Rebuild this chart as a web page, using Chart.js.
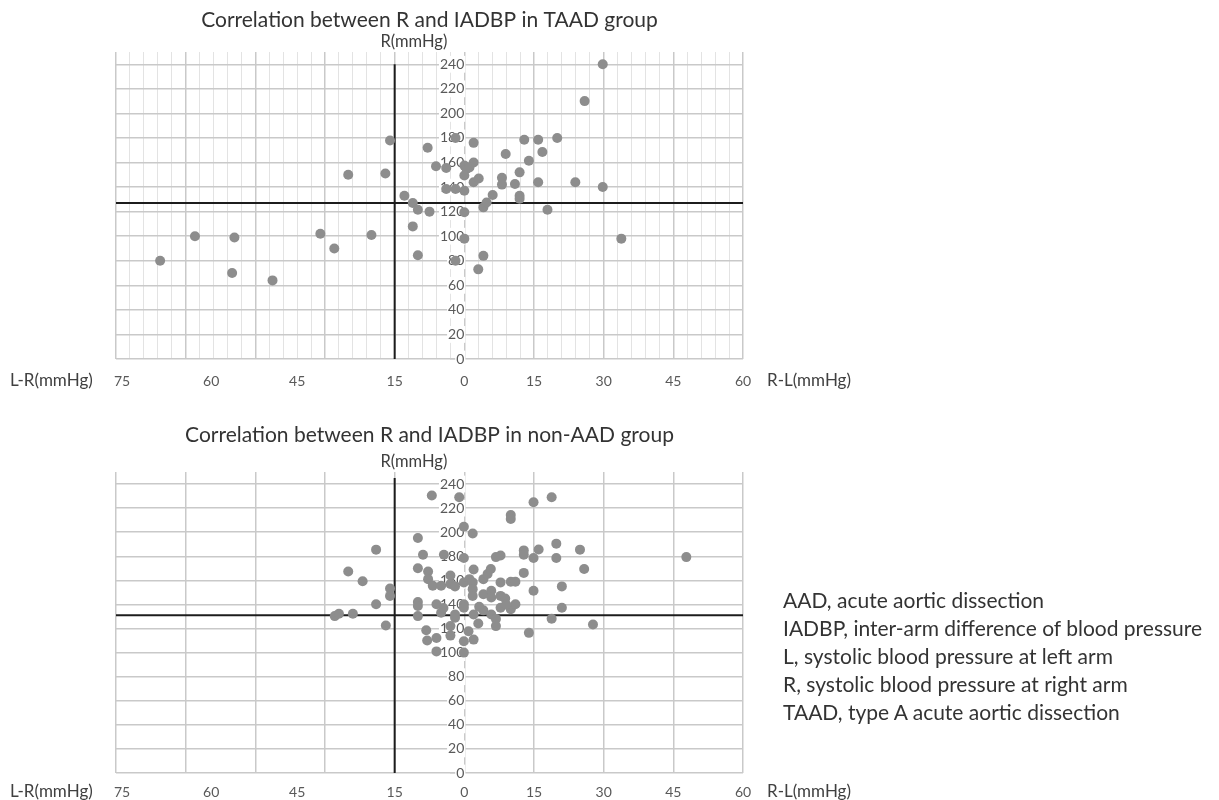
<!DOCTYPE html>
<html>
<head>
<meta charset="utf-8">
<script src="https://cdn.jsdelivr.net/npm/chart.js@4.4.1/dist/chart.umd.min.js"></script>
<style>
  body { margin: 0; background: #fff; width: 1219px; height: 800px; overflow: hidden; position: relative; font-family: Lato, sans-serif; }
  #top { position: absolute; left: 0; top: 0; }
  #bottom { position: absolute; left: 0; top: 400px; }
  #notes { position: absolute; left: 783px; top: 586px; font-size: 21px; line-height: 28px; color: #333; white-space: nowrap; }
</style>
</head>
<body>
<canvas id="top" width="880" height="422"></canvas>
<canvas id="bottom" width="880" height="422"></canvas>
<div id="notes">
  AAD, acute aortic dissection<br>
  IADBP, inter-arm difference of blood pressure<br>
  L, systolic blood pressure at left arm<br>
  R, systolic blood pressure at right arm<br>
  TAAD, type A acute aortic dissection
</div>
<script>
// x: R-L difference (negative = L-R side), y: R in mmHg
var xTickPos  = [-73.7, -54.5, -36, -15, 0, 15, 30, 45, 60];
var xTickText = ['75', '60', '45', '15', '0', '15', '30', '45', '60'];
var yTicks = [0, 20, 40, 60, 80, 100, 120, 140, 160, 180, 200, 220, 240];

var taadX = [-65.5, -58, -49.5, -50, -41.3, -31, -28, -25, -20,
  -17, -16, -7.9, -1.9, -6.1, -3.9, -3.9, -1.9, 0, 0, 0.5, 0, 2, 2, 1.1, 2, 3.1,
  0, 0, -1.9, 3, 4.1, 4.1, 4.8, 6.1, 8.1, 8.1, 8.9, 10.9, 11.9, 11.9, 11.9,
  12.9, 13.9, 15.9, 16.8, 15.9, 17.9, 20, 23.9, 25.9, 29.8, 29.8, 33.8,
  -12.9, -11.1, -10, -7.5, -11.1, -10];
var taadY = [80, 100, 99, 70, 64, 102, 90, 150, 101,
  151, 178, 172, 180, 157, 155.5, 138.5, 138.5, 137, 157.5, 155, 149.5, 176, 160, 156, 144, 147,
  119.5, 98, 80, 73, 84, 123.5, 127.5, 133.5, 147.5, 142, 167, 142.5, 152, 133, 130.5,
  178.5, 161.5, 178.5, 168.5, 144, 121.5, 180, 144, 210, 240, 140, 98,
  133, 127, 121.5, 120, 108, 84.5];

var nonX = [-27.9, -27, -24, -25, -21.9, -19, -19, -16.9, -16, -16,
  -10, -10, -10, -10, -10, -8.9, -7.8, -7.8, -7, -6.8, -6, -5, -8.2, -8, -6, -6,
  -4.4, -5, -3, -3, -2, -3, -3, -2, -2, -1.1, -0.1, -0.1, -0.1, -0.1, -0.1, -0.1, -0.1,
  1.1, 0.9, 1.8, 2, 1.8, 1.8, 1.8, 2, 2, 3, 4.1, 4.1, 4.1, 5, 5.7, 5.8, 5.8, 5.8,
  6.8, 6.8, 7.8, 7.8, 7.8, 7.8, 10, 10, 10, 10, 11, 11, 12.8, 12.8, 12.8, 13.9,
  14.9, 14.9, 14.9, 16, 18.8, 18.8, 19.8, 19.8, 21, 21, 24.9, 25.8, 27.7, 47.8,
  -4.5, 3.2, 8.8, 6.8, 9];
var nonY = [130.3, 132.3, 132.3, 167.3, 159.2, 185.5, 140.1, 122.5, 153.3, 147.1,
  195.2, 170, 142, 138.7, 130.3, 181.3, 167.3, 161, 230.5, 155.5, 140.1, 133.1, 118.6, 110, 112.2, 101,
  181.3, 155.5, 164, 157, 155, 122, 114.1, 131.7, 129, 229, 204.5, 178.5, 158.3, 140.1, 137.3, 109.4, 100,
  161, 117.8, 198.9, 169, 158.3, 152.7, 147.1, 131.7, 110.8, 124.2, 161, 148.5, 135.1, 165.3, 169.5, 151.3, 145.7, 131.7,
  122, 179.3, 180.7, 158.3, 147.1, 137.3, 214.3, 211, 136, 158.9, 158.9, 140.1, 184.9, 181.3, 166.2, 116.4,
  224.9, 178.5, 151.3, 185.7, 229.1, 128.1, 190.5, 178.5, 155, 137.3, 185.5, 169.5, 123.4, 179.3,
  137, 138, 145, 128, 140];

// black cross lines: [x of vertical line, y of horizontal line, top of vertical line]
var taadCross = [-15, 127, 240];
var nonCross = [-15, 131, 245];

var X_MIN = -75, X_MAX = 60;

var axisText = {
  id: 'axisText',
  afterDraw: function(chart, args, opts) {
    var ctx = chart.ctx, area = chart.chartArea, s = chart.scales;
    ctx.save();
    ctx.fillStyle = '#404040';
    ctx.textBaseline = 'middle';
    ctx.textAlign = 'right';
    ctx.font = '16.5px Lato';
    ctx.fillText('R(mmHg)', s.x.getPixelForValue(0) - 17, area.top - 10);
    var ly = area.bottom + opts.gap;
    ctx.font = '17px Lato';
    ctx.textAlign = 'left';
    ctx.fillText('L-R(mmHg)', 10, ly);
    ctx.fillText('R-L(mmHg)', area.right + 24, ly);
    ctx.restore();
  }
};

function makeChart(id, xs, ys, cross, gridStep, title, titlePad, lblPad, botPad) {
  var pts = xs.map(function(v, i) { return { x: v, y: ys[i] }; });
  return new Chart(document.getElementById(id), {
    type: 'scatter',
    data: {
      datasets: [
        { data: pts, backgroundColor: '#8d8d8d', borderWidth: 0, pointRadius: 5, pointHoverRadius: 5 },
        { data: [{ x: cross[0], y: 0 }, { x: cross[0], y: cross[2] }], showLine: true,
          borderColor: '#1c1c1c', borderWidth: 2, pointRadius: 0, clip: false },
        { data: [{ x: X_MIN, y: cross[1] }, { x: X_MAX, y: cross[1] }], showLine: true,
          borderColor: '#1c1c1c', borderWidth: 2, pointRadius: 0 }
      ]
    },
    options: {
      responsive: false,
      animation: false,
      events: [],
      layout: { padding: { left: 116, right: 137, top: 0, bottom: botPad } },
      scales: {
        x: {
          type: 'linear', min: X_MIN, max: X_MAX,
          ticks: { display: false, stepSize: gridStep },
          grid: {
            z: -1,
            drawTicks: false,
            color: function(c) { return c.tick && c.tick.value % 15 === 0 ? '#c9c9c9' : '#e3e3e3'; },
            lineWidth: function(c) { return c.tick && c.tick.value % 15 === 0 ? 1.5 : 1; }
          },
          border: { display: false }
        },
        xl: {
          type: 'linear', axis: 'x', position: 'bottom', min: X_MIN, max: X_MAX,
          afterBuildTicks: function(s) { s.ticks = xTickPos.map(function(v) { return { value: v }; }); },
          ticks: {
            autoSkip: false, maxRotation: 0, padding: lblPad,
            color: '#595959', font: { family: 'Lato', size: 14, lineHeight: 1 },
            callback: function(v, i) { return xTickText[i]; }
          },
          grid: { display: false, drawTicks: false },
          border: { display: false }
        },
        y: {
          type: 'linear', min: 0, max: 250, position: { x: 0 },
          afterBuildTicks: function(s) { s.ticks = yTicks.map(function(v) { return { value: v }; }); },
          ticks: {
            padding: 3, color: '#595959', font: { family: 'Lato', size: 14 },
            showLabelBackdrop: true, backdropColor: '#ffffff', backdropPadding: { x: 1, y: 0 }
          },
          grid: { color: '#c9c9c9', lineWidth: 1.5, tickLength: 14 },
          border: { display: false }
        }
      },
      plugins: {
        legend: { display: false },
        tooltip: { enabled: false },
        title: {
          display: true, text: title, fullSize: false,
          color: '#333', font: { family: 'Lato', size: 21, weight: 'normal', lineHeight: 1.2 },
          padding: titlePad
        },
        axisText: { gap: lblPad + 7 }
      }
    },
    plugins: [axisText]
  });
}

makeChart('top', taadX, taadY, taadCross, 3,
  'Correlation between R and IADBP in TAAD group', { top: 7.4, bottom: 19.4 }, 15, 19);
makeChart('bottom', nonX, nonY, nonCross, 15,
  'Correlation between R and IADBP in non-AAD group', { top: 22.4, bottom: 24.4 }, 12, 11);
</script>
</body>
</html>
